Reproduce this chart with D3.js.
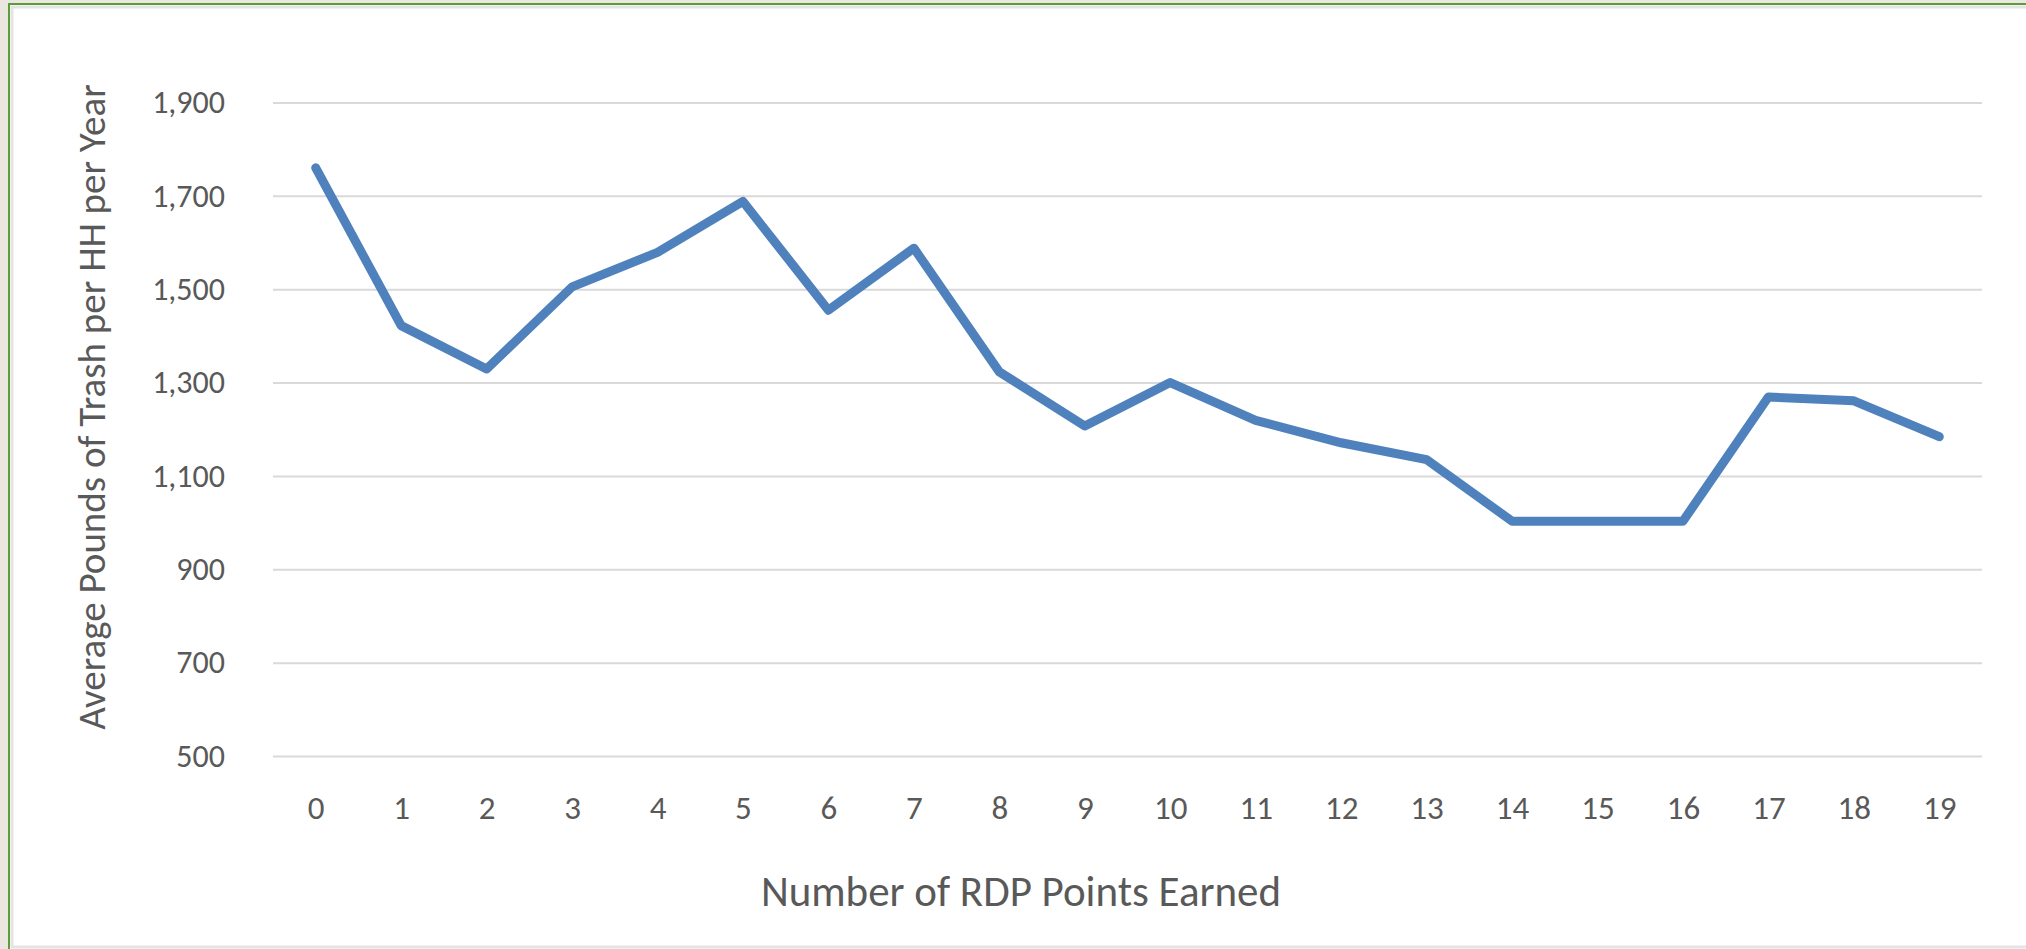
<!DOCTYPE html>
<html>
<head>
<meta charset="utf-8">
<script src="https://cdn.jsdelivr.net/npm/d3@7"></script>
<style>
  html, body { margin: 0; padding: 0; background: #ebe7e0; }
  #viz { width: 2026px; height: 949px; overflow: hidden; }
</style>
</head>
<body>
<div id="viz"></div>
<script>
// chart data
var points = [0,1,2,3,4,5,6,7,8,9,10,11,12,13,14,15,16,17,18,19];
var trash = [1760, 1422, 1329, 1505, 1579, 1688, 1455, 1588, 1323, 1207,
  1300, 1219, 1171, 1135, 1003, 1003, 1003, 1269, 1261, 1184];
var yTicks = [500, 700, 900, 1100, 1300, 1500, 1700, 1900];
var xTitle = "Number of RDP Points Earned";
var yTitle = "Average Pounds of Trash per HH per Year";

// layout
var width = 2026;
var height = 949;
var plotLeft = 273;
var plotRight = 1982;
var plotTop = 102.5;
var plotBottom = 756;
var fontFamily = "Calibri, Carlito, Lato, sans-serif";
var textColor = "#595959";

var svg = d3.select("#viz")
  .append("svg")
  .attr("width", width)
  .attr("height", height);

// frame round the chart (open on the right)
svg.append("rect")
  .attr("x", 9)
  .attr("y", 4)
  .attr("width", width + 20)
  .attr("height", height + 20)
  .attr("fill", "#ffffff")
  .attr("stroke", "#5a9e3a")
  .attr("stroke-width", 2);

svg.append("rect")
  .attr("x", 12)
  .attr("y", 7)
  .attr("width", width + 20)
  .attr("height", height - 9)
  .attr("fill", "none")
  .attr("stroke", "#e4e4e4")
  .attr("stroke-width", 3);

// scales
var x = d3.scalePoint()
  .domain(points)
  .range([plotLeft, plotRight])
  .padding(0.5);

var y = d3.scaleLinear()
  .domain([500, 1900])
  .range([plotBottom, plotTop]);

// gridlines + y labels
var yAxis = svg.append("g")
  .attr("transform", "translate(" + plotLeft + ",0)")
  .call(d3.axisLeft(y)
    .tickValues(yTicks)
    .tickSize(-(plotRight - plotLeft))
    .tickPadding(48)
    .tickFormat(d3.format(",")));

yAxis.select(".domain").remove();
yAxis.selectAll(".tick line")
  .attr("stroke", "#d9d9d9")
  .attr("stroke-width", 2);
yAxis.selectAll(".tick text")
  .attr("fill", textColor)
  .attr("font-family", fontFamily)
  .attr("font-size", "32px");

// x labels
var xAxis = svg.append("g")
  .attr("transform", "translate(0," + plotBottom + ")")
  .call(d3.axisBottom(x).tickSize(0).tickPadding(40));

xAxis.select(".domain").remove();
xAxis.selectAll(".tick text")
  .attr("fill", textColor)
  .attr("font-family", fontFamily)
  .attr("font-size", "33px");

// the line
var line = d3.line()
  .x(function(d, i) { return x(points[i]); })
  .y(function(d) { return y(d); });

svg.append("path")
  .datum(trash)
  .attr("d", line)
  .attr("fill", "none")
  .attr("stroke", "#4f81bd")
  .attr("stroke-width", 9)
  .attr("stroke-linejoin", "round")
  .attr("stroke-linecap", "round");

// axis titles
svg.append("text")
  .text(xTitle)
  .attr("x", 1021)
  .attr("y", 906)
  .attr("fill", textColor)
  .attr("font-family", fontFamily)
  .attr("font-size", "43px")
  .attr("text-anchor", "middle");

svg.append("text")
  .text(yTitle)
  .attr("transform", "translate(105," + 407 + ") rotate(-90)")
  .attr("fill", textColor)
  .attr("font-family", fontFamily)
  .attr("font-size", "39px")
  .attr("text-anchor", "middle");
</script>
</body>
</html>
